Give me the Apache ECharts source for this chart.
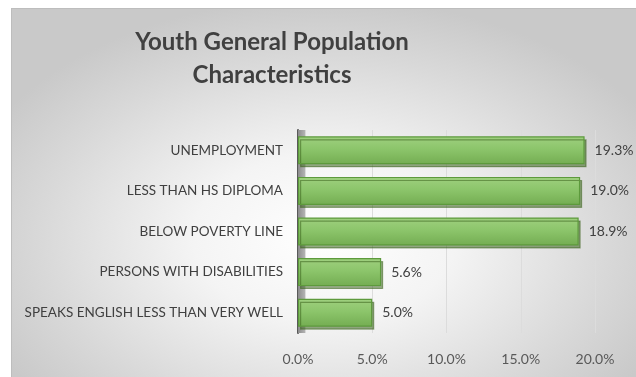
<!DOCTYPE html>
<html>
<head>
<meta charset="utf-8">
<script src="https://cdn.jsdelivr.net/npm/echarts@6/dist/echarts.min.js"></script>
<style>
  html, body { margin: 0; padding: 0; background: #fff; }
  #bg {
    position: absolute; left: 11px; top: 8px; width: 625px; height: 369px;
    background: radial-gradient(ellipse 60% 65% at 50% 62%, #ffffff 0%, #f4f4f4 35%, #d9d9d9 75%, #c9c9c9 100%);
    border-left: 1px solid #bdbdbd; border-top: 1px solid #bdbdbd;
  }
  #chart { position: absolute; left: 0; top: 0; width: 636px; height: 377px; }
</style>
</head>
<body>
<div id="bg"></div>
<div id="chart"></div>
<script>
// categories listed bottom-to-top (category axis starts at the bottom)
const categories = [
  'SPEAKS ENGLISH LESS THAN VERY WELL',
  'PERSONS WITH DISABILITIES',
  'BELOW POVERTY LINE',
  'LESS THAN HS DIPLOMA',
  'UNEMPLOYMENT'
]
const values = [5.0, 5.6, 18.9, 19.0, 19.3]
const xTicks = [0, 5, 10, 15, 20]

const chart = echarts.init(document.getElementById('chart'), null, { renderer: 'canvas' })

const option = {
  backgroundColor: 'transparent',
  title: {
    text: 'Youth General Population\nCharacteristics',
    left: 267,
    top: 21,
    textAlign: 'center',
    textStyle: {
      fontFamily: 'Lato',
      fontSize: 24,
      fontWeight: 'bold',
      color: '#404040',
      lineHeight: 33
    }
  },
  grid: { left: 298, right: 41, top: 130, bottom: 44, containLabel: false },
  xAxis: {
    type: 'value',
    min: xTicks[0],
    max: xTicks[xTicks.length - 1],
    interval: 5,
    axisLine: { show: false },
    axisTick: { show: false },
    axisLabel: {
      margin: 19,
      color: '#595959',
      fontFamily: 'Lato',
      fontSize: 14,
      formatter: v => v.toFixed(1) + '%'
    },
    splitLine: { lineStyle: { color: '#dcdcdc', width: 1 } }
  },
  yAxis: {
    type: 'category',
    data: categories,
    axisTick: { show: false },
    axisLine: { lineStyle: { color: '#595959', width: 2 } },
    axisLabel: {
      margin: 15,
      color: '#404040',
      fontFamily: 'Lato',
      fontSize: 13.5
    }
  },
  series: [{
    type: 'bar',
    data: values,
    barWidth: 28,
    itemStyle: {
      color: new echarts.graphic.LinearGradient(0, 0, 0, 1, [
        { offset: 0, color: '#9fd07f' },
        { offset: 0.45, color: '#8cc56b' },
        { offset: 1, color: '#74ad52' }
      ]),
      borderColor: '#5d9a3c',
      borderWidth: 1.2,
      shadowColor: 'rgba(60,100,30,0.55)',
      shadowOffsetX: 2,
      shadowOffsetY: 3,
      shadowBlur: 0
    },
    label: {
      show: true,
      position: 'right',
      distance: 10,
      color: '#404040',
      fontFamily: 'Lato',
      fontSize: 14,
      formatter: p => p.value.toFixed(1) + '%'
    },
    markArea: {
      silent: true,
      z: 1,
      itemStyle: {
        color: new echarts.graphic.LinearGradient(0, 0, 1, 0, [
          { offset: 0, color: '#8c8c8c' },
          { offset: 1, color: '#b5b5b5' }
        ])
      },
      data: [[{ xAxis: 0 }, { xAxis: 0.5 }]]
    }
  }]
}

chart.setOption(option)
</script>
</body>
</html>
